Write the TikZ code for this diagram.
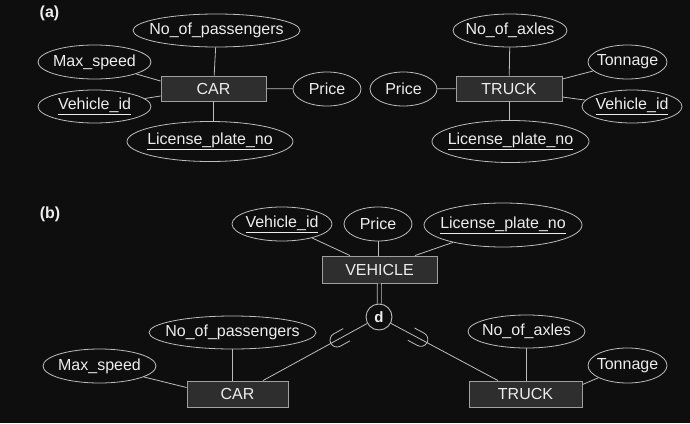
\documentclass[tikz,border=0pt]{standalone}
\usepackage{fontspec}
\setmainfont{Liberation Sans}
\usetikzlibrary{shapes.geometric,calc}
\definecolor{bgcol}{HTML}{0E0E0E}
\definecolor{linecol}{HTML}{BDBDBD}
\definecolor{boxfill}{HTML}{2E2E2E}
\definecolor{boxline}{HTML}{A0A0A0}
\definecolor{txtcol}{HTML}{EDEDED}
\tikzset{
  attr/.style={ellipse, draw=linecol, line width=0.8pt, inner sep=0pt, text=txtcol,
    font=\fontsize{16}{18}\selectfont},
  entity/.style={rectangle, draw=boxline, fill=boxfill, line width=0.9pt, inner sep=0pt, text=txtcol,
    font=\fontsize{16}{18}\selectfont},
  conn/.style={draw=linecol, line width=0.8pt},
  partlabel/.style={text=txtcol, font=\fontsize{16}{18}\selectfont\bfseries, inner sep=0pt},
  disj/.style={circle, draw=linecol, fill=bgcol, line width=0.9pt, minimum size=26pt, inner sep=0pt,
    text=txtcol, font=\fontsize{15}{17}\selectfont\bfseries},
  subsetsym/.style={draw=linecol, line width=0.8pt}
}
\newcommand{\zt}[1]{\makebox[0pt]{#1}}
\newcommand{\ul}[1]{\makebox[0pt]{\underline{#1}}}
\begin{document}
\begin{tikzpicture}[x=1pt,y=-1pt]
\fill[bgcol] (0,0) rectangle (690,423);
\useasboundingbox (0,0) rectangle (690,423);

% ---------- (a) ----------
\node[partlabel] (la) at (49.5,13) {(a)};
\node[entity, minimum width=105pt, minimum height=25pt] (car) at (213.5,88.5) {CAR};
\node[attr, minimum width=167pt, minimum height=33pt] (np) at (216.5,30.5) {\zt{No\_of\_passengers}};
\node[attr, minimum width=113pt, minimum height=34pt] (ms) at (94.5,62) {\zt{Max\_speed}};
\node[attr, minimum width=113pt, minimum height=33pt] (vid) at (94.5,106.5) {\ul{Vehicle\_id}};
\node[attr, minimum width=166pt, minimum height=40pt] (lp) at (210,141.5) {\ul{License\_plate\_no}};
\node[attr, minimum width=68pt, minimum height=34pt] (pr) at (327,89) {\zt{Price}};

\draw[conn] (np) -- (car);
\draw[conn] (ms) -- ([yshift=7.5pt]car.west);
\draw[conn] (vid) -- ([yshift=-7.5pt]car.west);
\draw[conn] (car.south) -- (car.south |- lp.north);
\draw[conn] (car) -- (pr);

\node[entity, minimum width=106pt, minimum height=25pt] (tr) at (509,88.5) {TRUCK};
\node[attr, minimum width=114pt, minimum height=33pt] (na) at (510,30.5) {\zt{No\_of\_axles}};
\node[attr, minimum width=79pt, minimum height=34pt] (tn) at (627.5,62) {\zt{Tonnage}};
\node[attr, minimum width=100pt, minimum height=33pt] (vid2) at (632,106.5) {\ul{Vehicle\_id}};
\node[attr, minimum width=157pt, minimum height=42pt] (lp2) at (510.5,141.5) {\ul{License\_plate\_no}};
\node[attr, minimum width=67pt, minimum height=34pt] (pr2) at (403.5,89) {\zt{Price}};

\draw[conn] (na) -- (tr);
\draw[conn] (tn) -- ([yshift=9.5pt]tr.east);
\draw[conn] (vid2) -- ([yshift=-8.5pt]tr.east);
\draw[conn] (tr.south) -- (tr.south |- lp2.north);
\draw[conn] (pr2) -- (tr);

% ---------- (b) ----------
\node[partlabel] (lb) at (50,214) {(b)};
\node[entity, minimum width=115pt, minimum height=27pt] (veh) at (379.5,269.5) {VEHICLE};
\node[attr, minimum width=100pt, minimum height=34pt] (vidb) at (282,224) {\ul{Vehicle\_id}};
\node[attr, minimum width=68pt, minimum height=34pt] (prb) at (378,224) {\zt{Price}};
\node[attr, minimum width=158pt, minimum height=44pt] (lpb) at (503,225) {\ul{License\_plate\_no}};

\draw[conn] (vidb) -- ([xshift=-29.5pt]veh.north);
\draw[conn] (prb) -- (prb |- veh.north);
\draw[conn] (lpb) -- ([xshift=35.5pt]veh.north);

\node[disj] (d) at (379,317) {d};
\draw[conn, double=bgcol, double distance=3.2pt] (veh) -- (d);

\node[entity, minimum width=101pt, minimum height=26pt] (carb) at (237.5,394) {CAR};
\node[attr, minimum width=167pt, minimum height=33pt] (npb) at (232.5,332.5) {\zt{No\_of\_passengers}};
\node[attr, minimum width=113pt, minimum height=34pt] (msb) at (99.5,366) {\zt{Max\_speed}};
\draw[conn] (npb) -- (npb |- carb.north);
\draw[conn] (msb) -- ([yshift=6.5pt]carb.west);

\node[entity, minimum width=113pt, minimum height=26pt] (trb) at (525.5,394) {TRUCK};
\node[attr, minimum width=117pt, minimum height=33pt] (nab) at (526.5,331.5) {\zt{No\_of\_axles}};
\node[attr, minimum width=79pt, minimum height=35pt] (tnb) at (627.5,365.5) {\zt{Tonnage}};
\draw[conn] (nab) -- (nab |- trb.north);
\draw[conn] (tnb) -- ([yshift=9.5pt]trb.east);

\draw[conn] (d) -- ([xshift=25.5pt]carb.north) coordinate[pos=0.29] (s1);
\draw[conn] (d) -- ([xshift=-27.5pt]trb.north) coordinate[pos=0.28] (s2);

\begin{scope}[shift={(s1)}, rotate=208.9]
  \draw[subsetsym] (-11pt,7pt) -- (0pt,7pt) arc[start angle=90, end angle=-90, radius=7pt] -- (-11pt,-7pt);
\end{scope}
\begin{scope}[shift={(s2)}, rotate=-28.3]
  \draw[subsetsym] (-11pt,7pt) -- (0pt,7pt) arc[start angle=90, end angle=-90, radius=7pt] -- (-11pt,-7pt);
\end{scope}
\end{tikzpicture}
\end{document}
